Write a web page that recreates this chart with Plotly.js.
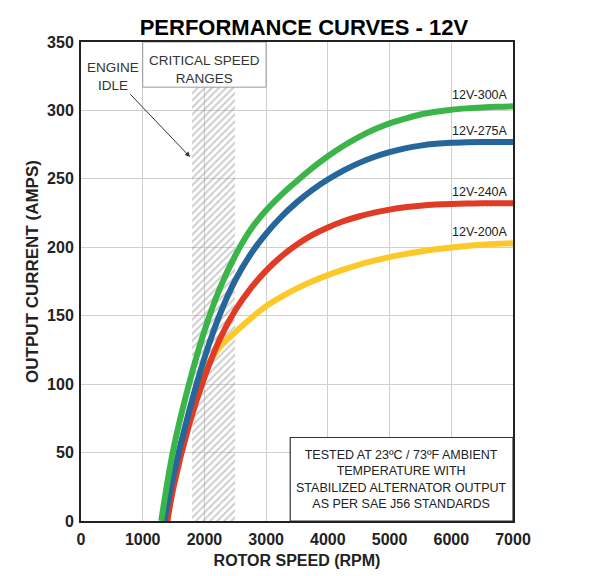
<!DOCTYPE html>
<html><head><meta charset="utf-8">
<script src="https://cdn.plot.ly/plotly-3.0.1.min.js"></script>
<style>html,body{margin:0;padding:0;background:#fff}#chart{width:597px;height:576px}</style>
</head><body><div id="chart"></div>
<script>
// ---- data ----
const seriesNames = ["12V-200A", "12V-240A", "12V-275A", "12V-300A"];
const rpmGrid = [1500,1750,2000,2250,2500,2750,3000,3250,3500,3750,4000,4250,4500,4750,5000,5250,5500,5750,6000,6250,6500,6750,7000];
const cutIn200 = [1380], cutIn240 = [1400], cutIn275 = [1350], cutIn300 = [1300];
const amps200 = [0, 28,74,109,127,138,148,157,164,170,175.2,179.7,183.7,187.2,190.2,192.8,195,196.9,198.5,199.8,200.9,201.8,202.5,203];
const amps240 = [0, 25,70,105,133,154,170,183,193.5,202,209,214.5,219,222.5,225.3,227.5,229.2,230.4,231.2,231.7,232,232.1,232.2,232.2];
const amps275 = [0, 34,80,119,151,176,195,210,222.5,233,242,249.5,256,261.5,266,269.5,272.3,274.3,275.6,276.4,276.8,277,277,277];
const amps300 = [0, 53,100,139,170,194,213,227,238.5,248.5,258,266.5,274,280.5,286,290.5,294,297,299,300.5,301.5,302.2,302.7,303];
const criticalRpm = [1800, 2500];
const criticalTop = [317];
const criticalLabelRpm = [1000, 3000];
const idlePoint = {rpm: 1767, amps: 266};
const xTicks = [0,1000,2000,3000,4000,5000,6000,7000];
const yTicks = [0,50,100,150,200,250,300,350];

const colors = ["#fcc92a", "#df3b25", "#25679a", "#3bb54a"];
const xs = [cutIn200.concat(rpmGrid), cutIn240.concat(rpmGrid), cutIn275.concat(rpmGrid), cutIn300.concat(rpmGrid)];
const ys = [amps200, amps240, amps275, amps300];

const font = "Liberation Sans, Arial, sans-serif";
const traces = [];
traces.push({
  type: "bar",
  x: [(criticalRpm[0] + criticalRpm[1]) / 2],
  y: criticalTop,
  width: [criticalRpm[1] - criticalRpm[0]],
  marker: {color: "rgba(255,255,255,0)", line: {width: 0},
           pattern: {shape: "/", fgcolor: "#9a9a9a", size: 5, solidity: 0.4, fillmode: "overlay"}},
  hoverinfo: "skip", showlegend: false
});
for (let i = 0; i < 4; i++) {
  traces.push({
    type: "scatter", mode: "lines", x: xs[i], y: ys[i], name: seriesNames[i],
    line: {color: colors[i], width: 6, shape: "spline", smoothing: 1},
    showlegend: false, hoverinfo: "skip"
  });
}

const annotations = [];
for (let i = 0; i < 4; i++) {
  annotations.push({
    x: xs[i][xs[i].length - 1], y: ys[i][ys[i].length - 1], xref: "x", yref: "y",
    text: seriesNames[i], showarrow: false, xanchor: "right", yanchor: "bottom",
    xshift: -3, yshift: 2, font: {family: font, size: 12.5, color: "#222"}
  });
}
annotations.push({
  x: idlePoint.rpm, y: idlePoint.amps, xref: "x", yref: "y",
  ax: 520, ay: 325, axref: "x", ayref: "y",
  text: "ENGINE<br>IDLE", showarrow: true, arrowhead: 2, arrowsize: 1, arrowwidth: 1,
  arrowcolor: "#333", font: {family: font, size: 13.5, color: "#333"}
});
annotations.push({
  x: (criticalLabelRpm[0] + criticalLabelRpm[1]) / 2, y: 330, xref: "x", yref: "y",
  text: "CRITICAL SPEED<br>RANGES", showarrow: false,
  font: {family: font, size: 13.5, color: "#333"}
});
annotations.push({
  x: 5186, y: 30, xref: "x", yref: "y",
  text: "TESTED AT 23ºC / 73ºF AMBIENT<br>TEMPERATURE WITH<br>STABILIZED ALTERNATOR OUTPUT<br>AS PER SAE J56 STANDARDS",
  showarrow: false, font: {family: font, size: 12.5, color: "#222"}
});
annotations.push({
  x: -0.111, y: 0.52, xref: "paper", yref: "paper", textangle: -90,
  text: "OUTPUT CURRENT (AMPS)", showarrow: false, xanchor: "center", yanchor: "middle",
  font: {family: font, size: 17, weight: "bold", color: "#222"}
});

const shapes = [
  {type: "rect", xref: "x", yref: "y", x0: criticalLabelRpm[0], x1: criticalLabelRpm[1], y0: criticalTop[0], y1: 350,
   fillcolor: "#fff", line: {color: "#999", width: 1}, layer: "above"},
  {type: "rect", xref: "x", yref: "y", x0: 3390, x1: 7000, y0: 0, y1: 61,
   fillcolor: "#fff", line: {color: "#333", width: 1.2}, layer: "above"}
];

const layout = {
  width: 597, height: 576,
  margin: {l: 81, r: 84, t: 42, b: 55, pad: 0},
  paper_bgcolor: "#fff", plot_bgcolor: "#fff",
  title: {text: "PERFORMANCE CURVES - 12V", x: 0.516, xref: "paper", xanchor: "center",
          y: 1 - 27.5/576, yref: "container", yanchor: "middle",
          font: {family: font, size: 22, weight: "bold", color: "#000"}},
  xaxis: {range: [0, 7000], tickvals: xTicks, ticktext: xTicks.map(String),
          showgrid: true, gridcolor: "#cfcfcf", gridwidth: 1, zeroline: false,
          showline: true, linecolor: "#222", linewidth: 2, mirror: true, ticks: "",
          ticklabelstandoff: 3,
          tickfont: {family: font, size: 16, weight: "bold", color: "#222"},
          title: {text: "ROTOR SPEED (RPM)", standoff: 8, font: {family: font, size: 16, weight: "bold", color: "#222"}}},
  yaxis: {range: [0, 350], tickvals: yTicks, ticktext: yTicks.map(String),
          showgrid: true, gridcolor: "#cfcfcf", gridwidth: 1, zeroline: false,
          showline: true, linecolor: "#222", linewidth: 2, mirror: true, ticks: "",
          ticklabelstandoff: 2,
          tickfont: {family: font, size: 16, weight: "bold", color: "#222"}},
  annotations: annotations, shapes: shapes, showlegend: false, bargap: 0
};
Plotly.newPlot("chart", traces, layout, {displayModeBar: false, staticPlot: true});
</script></body></html>
